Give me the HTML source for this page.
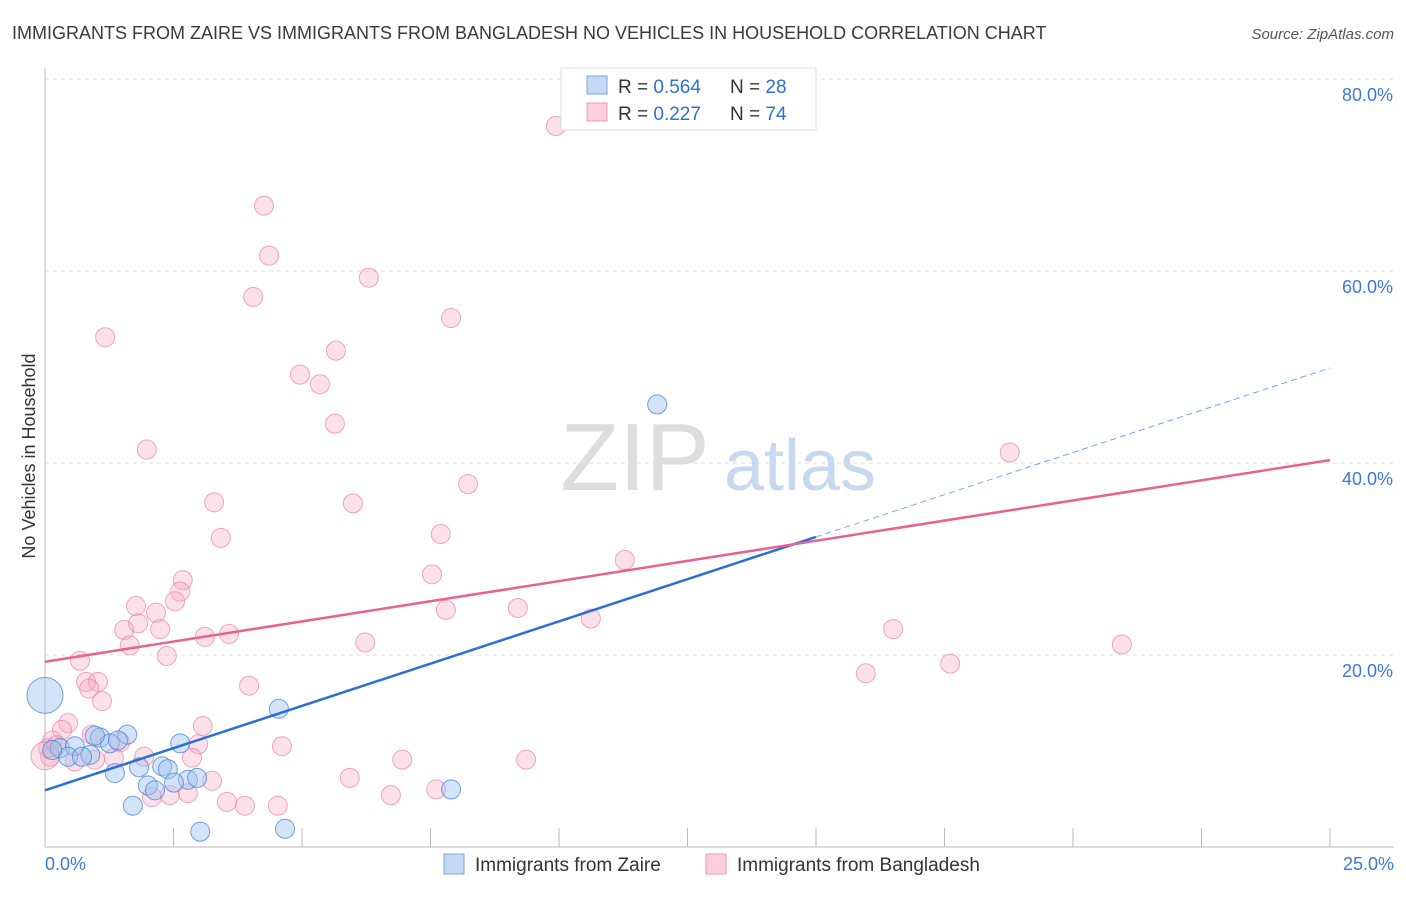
<!DOCTYPE html>
<html><head><meta charset="utf-8"><style>
body{margin:0;background:#fff;font-family:"Liberation Sans",sans-serif;}
svg text{font-family:"Liberation Sans",sans-serif;}
</style></head><body>
<svg id="chart" width="1406" height="892" xmlns="http://www.w3.org/2000/svg">
<text x="12" y="39" font-size="18" fill="#3a3a3a">IMMIGRANTS FROM ZAIRE VS IMMIGRANTS FROM BANGLADESH NO VEHICLES IN HOUSEHOLD CORRELATION CHART</text>
<text x="1394" y="39" font-size="15" fill="#555" text-anchor="end" font-style="italic">Source: ZipAtlas.com</text>
<text x="35" y="456" font-size="18" fill="#333" text-anchor="middle" transform="rotate(-90 35 456)">No Vehicles in Household</text>
<g id="grid"></g>
<g><text x="635" y="490" font-size="96" fill="#ddd" text-anchor="middle" font-family="Liberation Serif">ZIP</text><text x="800" y="490" font-size="72" fill="#c8d8ee" text-anchor="middle">atlas</text></g>
<g id="pts"></g>
<g id="lines"></g>
<g>
<rect x="561" y="68" width="255" height="62" fill="#fff" stroke="#ddd"/>
<rect x="587" y="76" width="20" height="18" fill="#c5d9f5" stroke="#7aa6e0"/>
<rect x="587" y="103" width="20" height="18" fill="#fbcfdc" stroke="#ef9ab4"/>
<text x="618" y="93" font-size="19" fill="#333">R = <tspan fill="#2d6fd4">0.564</tspan></text>
<text x="730" y="93" font-size="19" fill="#333">N = <tspan fill="#2d6fd4">28</tspan></text>
<text x="618" y="120" font-size="19" fill="#333">R =  <tspan fill="#2d6fd4">0.227</tspan></text>
<text x="730" y="120" font-size="19" fill="#333">N = <tspan fill="#2d6fd4">74</tspan></text>
</g>
<g>
<rect x="444" y="854" width="20" height="20" fill="#c5d9f5" stroke="#7aa6e0"/>
<text x="475" y="871" font-size="19" fill="#333">Immigrants from Zaire</text>
<rect x="706" y="854" width="20" height="20" fill="#fbcfdc" stroke="#ef9ab4"/>
<text x="737" y="871" font-size="19" fill="#333">Immigrants from Bangladesh</text>
</g>
</svg>
<script>
const xTicks=[0,2.5,5,7.5,10,12.5,15,17.5,20,22.5,25];
const yTicks=[20,40,60,80];
const yTickLabels=["20.0%","40.0%","60.0%","80.0%"];
const zaireX=[0,11.91,4.55,0.29,0.58,0.88,1.07,1.26,1.60,1.42,0.45,0.72,1.36,1.83,2.63,2.28,2.39,2.00,2.14,2.78,2.96,2.51,1.71,3.02,4.67,7.90,0.97,0.14];
const zaireY=[15.8,46.1,14.4,10.3,10.5,9.6,11.4,10.8,11.7,11.1,9.4,9.4,7.7,8.3,10.8,8.4,8.1,6.4,5.9,7.0,7.2,6.7,4.3,1.6,1.9,6.0,11.6,10.1];
const bangX=[9.94,4.26,4.36,4.05,6.30,7.90,1.17,5.66,4.96,5.35,5.64,1.98,18.77,3.29,5.99,8.23,3.42,7.70,7.53,11.28,2.68,2.63,2.53,1.77,2.16,1.81,1.54,2.24,1.65,3.11,3.58,2.37,0.68,6.23,9.20,10.62,7.80,16.50,20.95,15.97,17.61,3.97,0.80,1.03,0.86,1.11,0.45,0.33,0.14,0.06,0.10,0.58,0.91,1.46,4.61,2.98,3.07,1.93,1.34,2.86,6.95,9.36,5.93,3.25,2.08,2.43,2.78,3.54,3.89,4.53,6.73,7.61,0.23,0.97,0];
const bangY=[75.1,66.8,61.6,57.3,59.3,55.1,53.1,51.7,49.2,48.2,44.1,41.4,41.1,35.9,35.8,37.8,32.2,32.6,28.4,29.9,27.8,26.6,25.6,25.1,24.4,23.3,22.6,22.7,21.0,21.9,22.2,19.9,19.4,21.3,24.9,23.8,24.7,22.7,21.1,18.1,19.1,16.8,17.2,17.2,16.5,15.2,12.9,12.2,11.1,10.3,9.4,8.9,11.7,10.9,10.5,10.7,12.6,9.4,9.3,9.3,9.1,9.1,7.2,6.9,5.2,5.4,5.6,4.7,4.3,4.3,5.4,6.0,10.6,9.1,9.5];
const zaireFit=[5.9,32.3,49.9];
const bangFit=[19.3,40.3];
const X=v=>45+v/25*1285, Y=v=>847-v*9.6;
const NS="http://www.w3.org/2000/svg";
function mk(t,a,p){const e=document.createElementNS(NS,t);for(const k in a)e.setAttribute(k,a[k]);p.appendChild(e);return e;}
const g=document.getElementById('grid');
yTicks.forEach((t,i)=>{
 const l=mk('line',{x1:45,x2:1394,y1:Y(t),y2:Y(t),stroke:'#ddd','stroke-dasharray':'4,4'},g);
 
 
 const tx=mk('text',{x:1393,y:Y(t)+22,'font-size':18,fill:'#3b78d8','text-anchor':'end'},g);
 tx.textContent=yTickLabels[i];
 
 
});
const ax=mk('line',{x1:45,x2:45,y1:68,y2:847,stroke:'#bbb'},g);


const bx=mk('line',{x1:45,x2:1394,y1:847,y2:847,stroke:'#bbb'},g);


xTicks.forEach(t=>{
 const l=mk('line',{x1:X(t),x2:X(t),y1:828,y2:847,stroke:'#bbb'},g);
 
 
});
[[0,'0.0%','start',45],[25,'25.0%','end',1394]].forEach(a=>{
 const tx=mk('text',{x:a[3],y:870,'font-size':18,fill:'#3b78d8','text-anchor':a[2]},g);
 tx.textContent=a[1];
 
 
});
const p=document.getElementById('pts');
bangX.forEach((x,i)=>{
 const c=mk('circle',{cx:X(x),cy:Y(bangY[i]),r:i==bangX.length-1?14:9.5,fill:'rgba(247,170,195,0.35)',stroke:'rgba(235,130,165,0.7)'},p);
 
 
});
zaireX.forEach((x,i)=>{
 const c=mk('circle',{cx:X(x),cy:Y(zaireY[i]),r:i==0?18:9.5,fill:'rgba(160,195,240,0.45)',stroke:'rgba(70,130,215,0.75)'},p);
 
 
});
const L=document.getElementById('lines');
const b1=mk('line',{x1:X(0),y1:Y(zaireFit[0]),x2:X(15),y2:Y(zaireFit[1]),stroke:'#2a6fd6','stroke-width':2.5},L);


const b2=mk('line',{x1:X(15),y1:Y(zaireFit[1]),x2:X(25),y2:Y(zaireFit[2]),stroke:'#7aa6e0','stroke-width':1,'stroke-dasharray':'6,4'},L);


const p1=mk('line',{x1:X(0),y1:Y(bangFit[0]),x2:X(25),y2:Y(bangFit[1]),stroke:'#e8628f','stroke-width':2.5},L);


</script>
</body></html>
